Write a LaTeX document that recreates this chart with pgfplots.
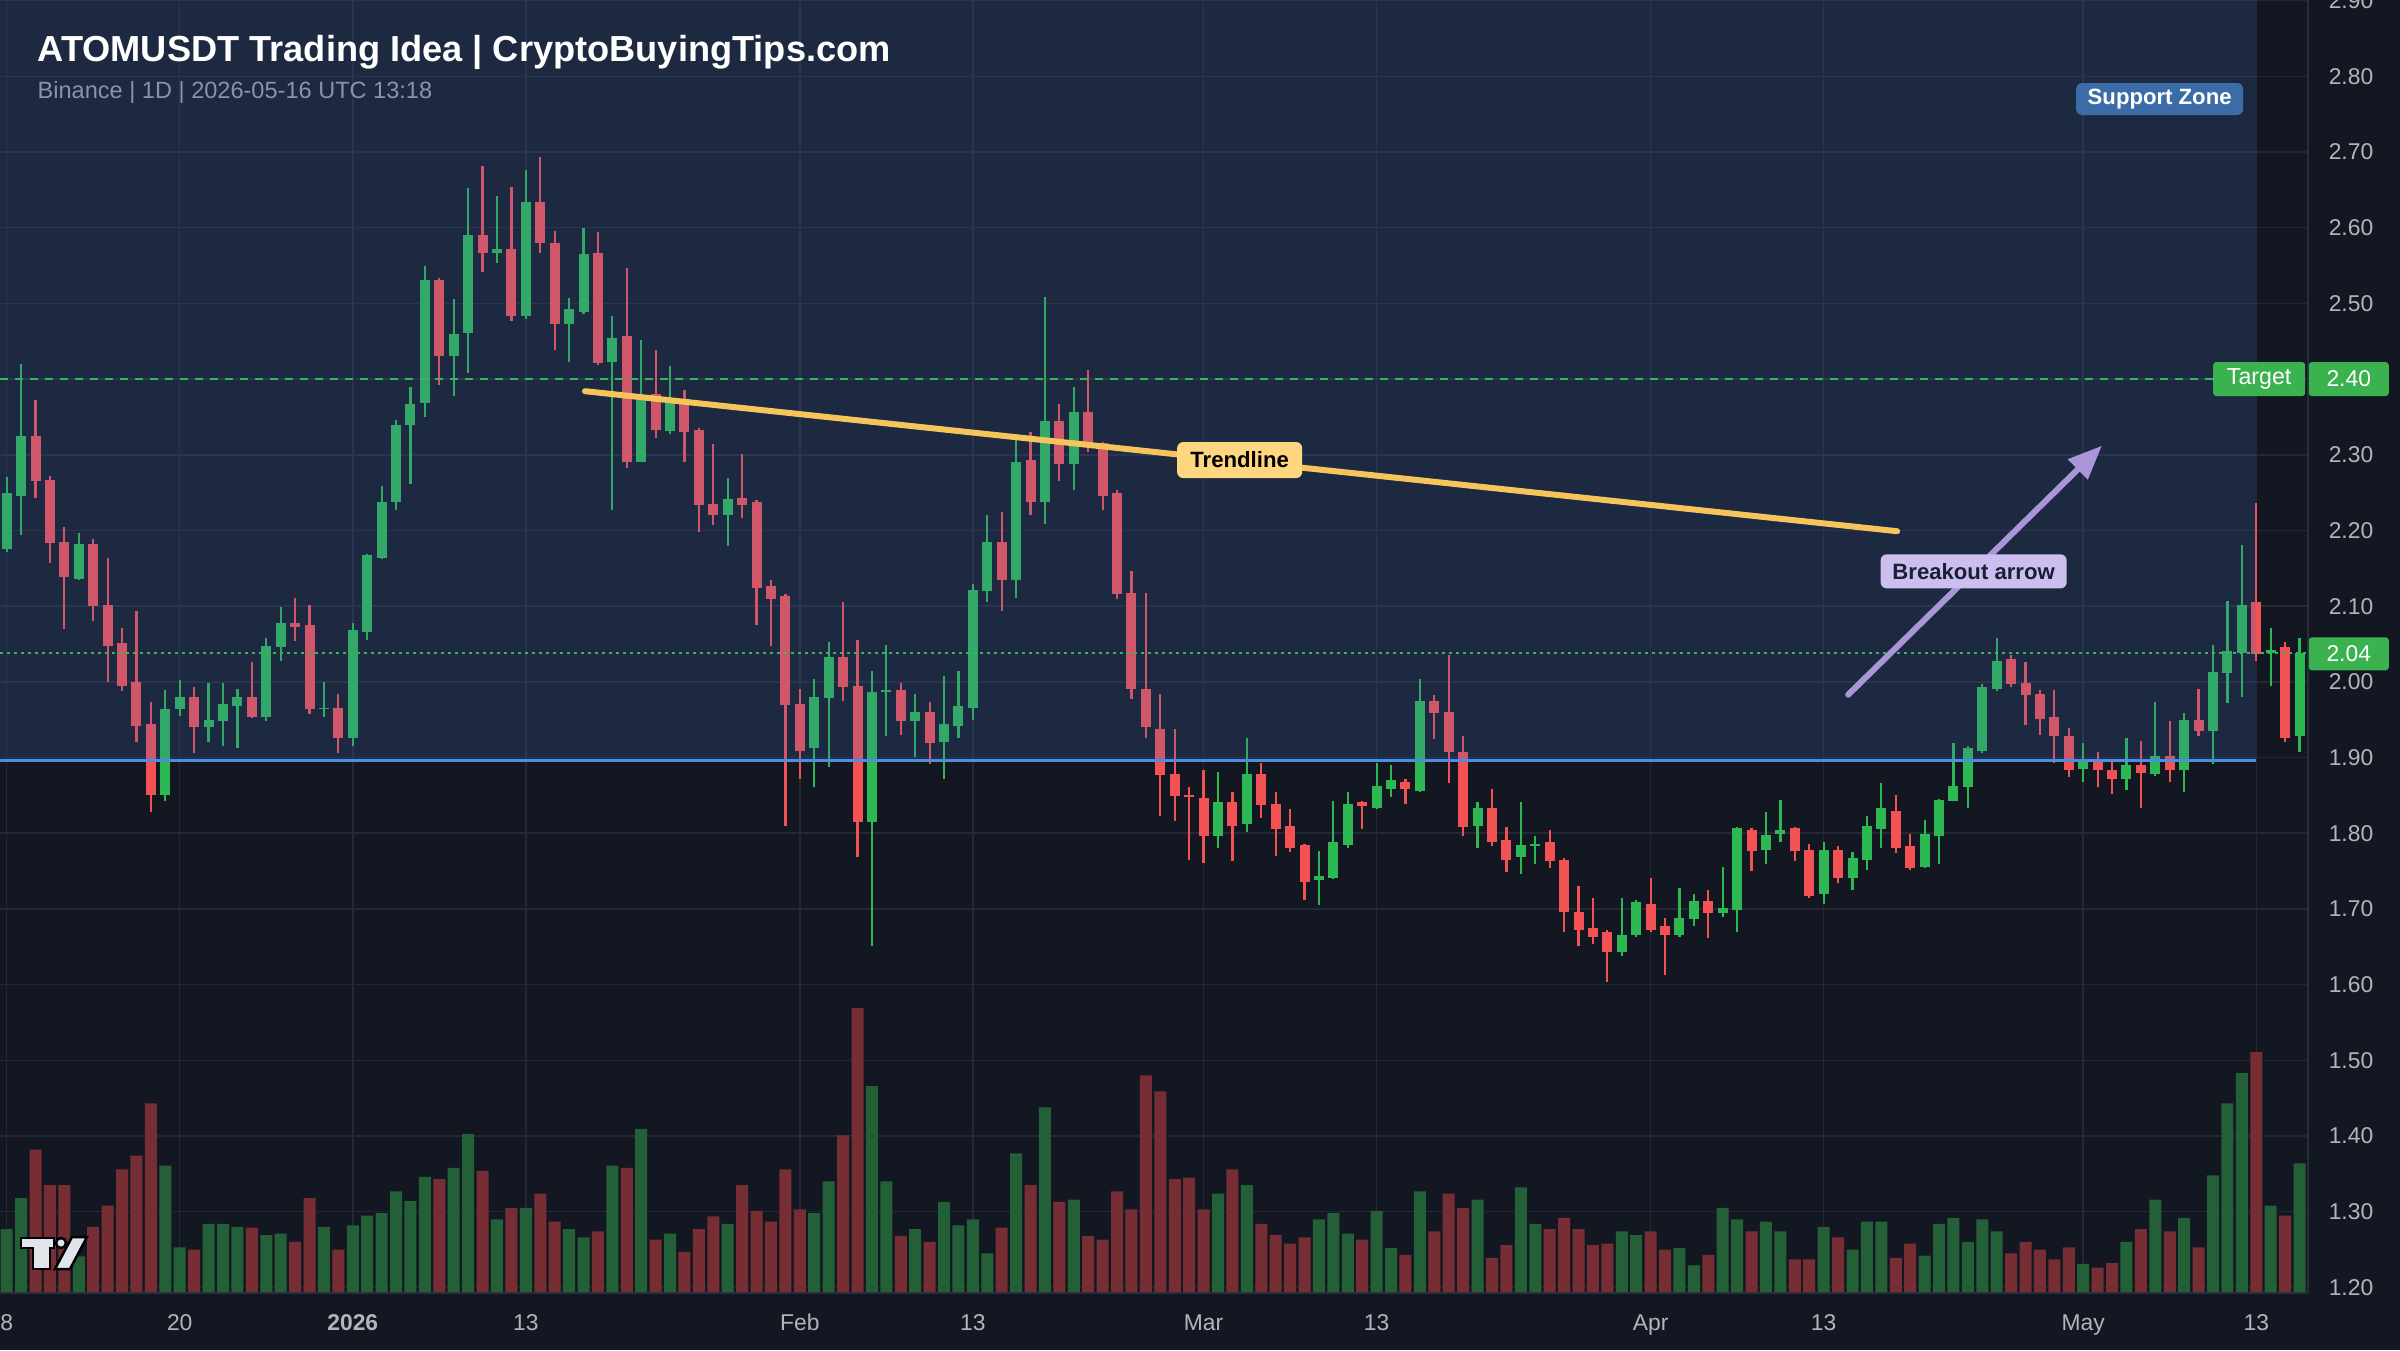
\documentclass[border=0pt]{standalone}
\usepackage{pgfplots}
\pgfplotsset{compat=1.18}
\usepackage{pgfplotstable}
\usepackage{fontspec}
\setmainfont{Liberation Sans}
\usetikzlibrary{arrows.meta}

\definecolor{bgdark}{RGB}{19,23,34}
\definecolor{zonec}{RGB}{70,110,190}
\definecolor{gridc}{RGB}{36,40,52}
\definecolor{cgreen}{RGB}{46,184,84}
\definecolor{cred}{RGB}{242,82,84}
\definecolor{vgreen}{RGB}{35,95,55}
\definecolor{vred}{RGB}{118,45,52}
\definecolor{tgreen}{RGB}{60,180,90}
\definecolor{boxgreen}{RGB}{58,178,80}
\definecolor{supc}{RGB}{74,144,226}
\definecolor{trendc}{RGB}{245,197,92}
\definecolor{trendlab}{RGB}{255,214,128}
\definecolor{arrowc}{RGB}{170,150,215}
\definecolor{arrowlab}{RGB}{205,190,240}
\definecolor{arrowtxt}{RGB}{26,31,54}
\definecolor{zonelab}{RGB}{60,108,168}
\definecolor{tickc}{RGB}{178,181,190}
\definecolor{subc}{RGB}{139,147,167}
\definecolor{sepc}{RGB}{42,46,57}
\definecolor{logoc}{RGB}{225,228,234}

% i: day index (0 = 2025-12-08), o h l c: open high low close, v: volume bar top (drawn on the price scale)
\pgfplotstableread{
i o h l c v
0 2.176 2.270 2.172 2.249 1.277
1 2.246 2.420 2.194 2.325 1.318
2 2.325 2.372 2.243 2.265 1.382
3 2.267 2.272 2.157 2.183 1.335
4 2.185 2.205 2.070 2.138 1.335
5 2.136 2.196 2.134 2.182 1.241
6 2.182 2.189 2.080 2.100 1.280
7 2.102 2.164 2.000 2.048 1.308
8 2.051 2.071 1.988 1.995 1.356
9 2.000 2.093 1.920 1.942 1.374
10 1.944 1.973 1.828 1.850 1.443
11 1.850 1.989 1.843 1.964 1.361
12 1.964 2.002 1.955 1.980 1.253
13 1.980 1.993 1.906 1.941 1.250
14 1.941 1.999 1.921 1.950 1.284
15 1.948 1.999 1.915 1.971 1.284
16 1.968 1.991 1.913 1.980 1.280
17 1.980 2.026 1.952 1.953 1.279
18 1.953 2.058 1.948 2.047 1.269
19 2.046 2.099 2.028 2.078 1.271
20 2.078 2.111 2.054 2.072 1.260
21 2.075 2.102 1.957 1.964 1.318
22 1.964 2.000 1.953 1.966 1.280
23 1.966 1.984 1.906 1.926 1.250
24 1.926 2.078 1.915 2.069 1.282
25 2.066 2.169 2.055 2.167 1.295
26 2.164 2.259 2.162 2.238 1.298
27 2.238 2.346 2.227 2.339 1.327
28 2.339 2.390 2.262 2.367 1.314
29 2.368 2.549 2.350 2.531 1.346
30 2.531 2.533 2.392 2.431 1.343
31 2.431 2.506 2.377 2.459 1.358
32 2.461 2.652 2.408 2.591 1.403
33 2.591 2.681 2.542 2.566 1.354
34 2.566 2.642 2.553 2.572 1.290
35 2.572 2.654 2.477 2.483 1.305
36 2.483 2.676 2.480 2.634 1.305
37 2.634 2.694 2.566 2.580 1.324
38 2.580 2.596 2.439 2.473 1.287
39 2.473 2.507 2.422 2.493 1.277
40 2.489 2.600 2.486 2.565 1.266
41 2.567 2.594 2.419 2.421 1.274
42 2.422 2.483 2.227 2.454 1.361
43 2.457 2.547 2.283 2.291 1.358
44 2.291 2.451 2.290 2.373 1.409
45 2.380 2.438 2.322 2.333 1.263
46 2.332 2.417 2.328 2.368 1.271
47 2.372 2.385 2.291 2.330 1.247
48 2.333 2.335 2.198 2.233 1.277
49 2.235 2.314 2.207 2.220 1.294
50 2.220 2.269 2.180 2.241 1.284
51 2.243 2.301 2.217 2.233 1.335
52 2.238 2.240 2.075 2.124 1.301
53 2.127 2.135 2.048 2.109 1.287
54 2.113 2.116 1.809 1.970 1.356
55 1.971 1.991 1.872 1.908 1.303
56 1.912 2.004 1.861 1.980 1.298
57 1.979 2.053 1.888 2.033 1.340
58 2.033 2.105 1.975 1.993 1.401
59 1.995 2.055 1.769 1.815 1.569
60 1.815 2.014 1.651 1.986 1.466
61 1.986 2.049 1.928 1.989 1.340
62 1.989 1.999 1.930 1.948 1.268
63 1.948 1.984 1.901 1.960 1.277
64 1.960 1.973 1.892 1.919 1.260
65 1.920 2.008 1.872 1.944 1.313
66 1.942 2.015 1.926 1.968 1.282
67 1.966 2.129 1.950 2.122 1.290
68 2.120 2.220 2.106 2.185 1.245
69 2.185 2.225 2.093 2.135 1.279
70 2.135 2.321 2.111 2.291 1.377
71 2.293 2.330 2.220 2.238 1.335
72 2.238 2.509 2.209 2.345 1.438
73 2.345 2.367 2.265 2.288 1.313
74 2.288 2.390 2.254 2.356 1.316
75 2.356 2.412 2.304 2.314 1.268
76 2.315 2.317 2.227 2.246 1.263
77 2.249 2.254 2.109 2.116 1.327
78 2.118 2.147 1.977 1.990 1.303
79 1.991 2.118 1.926 1.941 1.480
80 1.938 1.984 1.823 1.877 1.459
81 1.878 1.938 1.816 1.849 1.343
82 1.850 1.861 1.765 1.848 1.345
83 1.846 1.883 1.761 1.797 1.303
84 1.797 1.881 1.781 1.841 1.324
85 1.841 1.854 1.763 1.810 1.356
86 1.812 1.926 1.801 1.878 1.335
87 1.878 1.893 1.820 1.837 1.284
88 1.838 1.854 1.770 1.805 1.269
89 1.810 1.832 1.775 1.781 1.258
90 1.785 1.786 1.712 1.736 1.266
91 1.738 1.776 1.705 1.743 1.290
92 1.741 1.843 1.740 1.788 1.298
93 1.785 1.854 1.781 1.838 1.271
94 1.841 1.843 1.805 1.836 1.263
95 1.833 1.893 1.832 1.862 1.301
96 1.859 1.890 1.848 1.870 1.252
97 1.868 1.872 1.839 1.859 1.243
98 1.856 2.004 1.854 1.975 1.327
99 1.975 1.983 1.924 1.959 1.274
100 1.960 2.035 1.867 1.907 1.324
101 1.907 1.928 1.797 1.808 1.305
102 1.810 1.841 1.781 1.833 1.316
103 1.833 1.859 1.783 1.788 1.239
104 1.791 1.808 1.749 1.765 1.256
105 1.768 1.841 1.746 1.785 1.332
106 1.783 1.796 1.759 1.786 1.284
107 1.788 1.804 1.754 1.763 1.277
108 1.765 1.767 1.670 1.696 1.292
109 1.696 1.730 1.651 1.672 1.277
110 1.675 1.714 1.654 1.663 1.256
111 1.669 1.672 1.604 1.643 1.258
112 1.643 1.714 1.638 1.665 1.274
113 1.665 1.712 1.663 1.709 1.269
114 1.707 1.741 1.669 1.672 1.274
115 1.678 1.688 1.613 1.665 1.250
116 1.665 1.728 1.663 1.688 1.252
117 1.687 1.720 1.678 1.711 1.229
118 1.711 1.725 1.662 1.694 1.243
119 1.694 1.756 1.689 1.701 1.305
120 1.699 1.808 1.670 1.807 1.290
121 1.804 1.807 1.750 1.776 1.274
122 1.778 1.828 1.759 1.798 1.287
123 1.799 1.844 1.788 1.804 1.274
124 1.807 1.808 1.763 1.776 1.237
125 1.778 1.786 1.714 1.717 1.237
126 1.720 1.788 1.707 1.778 1.280
127 1.778 1.783 1.734 1.741 1.266
128 1.741 1.775 1.725 1.767 1.250
129 1.765 1.823 1.752 1.810 1.287
130 1.805 1.866 1.781 1.833 1.287
131 1.830 1.850 1.774 1.780 1.239
132 1.783 1.799 1.752 1.754 1.258
133 1.756 1.817 1.754 1.799 1.242
134 1.797 1.845 1.759 1.844 1.284
135 1.843 1.919 1.842 1.862 1.292
136 1.861 1.915 1.833 1.912 1.260
137 1.909 1.997 1.906 1.993 1.290
138 1.990 2.058 1.988 2.028 1.274
139 2.030 2.035 1.993 1.997 1.245
140 1.999 2.026 1.943 1.983 1.260
141 1.984 1.989 1.930 1.951 1.250
142 1.953 1.989 1.893 1.928 1.237
143 1.928 1.939 1.874 1.884 1.253
144 1.885 1.919 1.868 1.895 1.231
145 1.895 1.908 1.861 1.883 1.226
146 1.883 1.895 1.852 1.872 1.232
147 1.872 1.926 1.857 1.890 1.260
148 1.890 1.922 1.833 1.879 1.277
149 1.878 1.973 1.875 1.902 1.316
150 1.902 1.948 1.868 1.884 1.274
151 1.884 1.959 1.854 1.949 1.292
152 1.949 1.991 1.928 1.935 1.253
153 1.935 2.049 1.892 2.013 1.348
154 2.012 2.107 1.972 2.041 1.443
155 2.038 2.181 1.980 2.101 1.483
156 2.105 2.236 2.028 2.037 1.511
157 2.038 2.071 1.995 2.042 1.308
158 2.046 2.053 1.921 1.926 1.295
159 1.928 2.058 1.908 2.038 1.364
}\candles

\pgfplotsset{
  candle/.style 2 args={only marks, mark=none, mark size=0pt,
    mark options={draw=none, fill=none},
    error bars/.cd, y dir=both, y explicit, error mark=none,
    error bar style={color=#1, line width=#2}},
}

\begin{document}
\begin{tikzpicture}
\path[use as bounding box] (0,0) rectangle (24,13.5);
\fill[bgdark] (0,0) rectangle (24,13.5);
\begin{axis}[
  at={(0cm,0.57cm)}, anchor=south west,
  width=23.08cm, height=12.93cm, scale only axis,
  xmin=-0.465, xmax=159.59, ymin=1.1926, ymax=2.9008,
  axis line style={draw=none},
  major tick length=0pt,
  clip mode=individual,
  xtick={0,12,24,36,55,67,83,95,114,126,144,156},
  xticklabels={8,20,\textbf{2026},13,Feb,13,Mar,13,Apr,13,May,13},
  ytick={1.2,1.3,1.4,1.5,1.6,1.7,1.8,1.9,2.0,2.1,2.2,2.3,2.4,2.5,2.6,2.7,2.8,2.9},
  yticklabel pos=right,
  xmajorgrids, ymajorgrids,
  grid style={gridc, line width=0.015cm},
  /pgf/number format/assume math mode=true,
  ticklabel style={font=\fontsize{6.5}{7.8}\selectfont, text=tickc},
  y tick label style={anchor=west, inner sep=0pt, xshift=0.2cm,
     /pgf/number format/fixed, /pgf/number format/fixed zerofill, /pgf/number format/precision=2},
  x tick label style={anchor=base, inner sep=0pt, yshift=-0.37cm},
]
% volume
\addplot[ybar, bar width=0.12cm, bar shift=0pt, fill=vgreen, draw=none]
  table[x=i, y=v, restrict expr to domain={\thisrow{c}-\thisrow{o}}{0:5}] {\candles};
\addplot[ybar, bar width=0.12cm, bar shift=0pt, fill=vred, draw=none]
  table[x=i, y=v, restrict expr to domain={\thisrow{o}-\thisrow{c}}{0:5}] {\candles};
% wicks
\addplot[candle={cgreen}{0.022cm}]
  table[x=i, y expr={(\thisrow{h}+\thisrow{l})/2}, y error expr={(\thisrow{h}-\thisrow{l})/2},
        restrict expr to domain={\thisrow{c}-\thisrow{o}}{0:5}] {\candles};
\addplot[candle={cred}{0.022cm}]
  table[x=i, y expr={(\thisrow{h}+\thisrow{l})/2}, y error expr={(\thisrow{h}-\thisrow{l})/2},
        restrict expr to domain={\thisrow{o}-\thisrow{c}}{0:5}] {\candles};
% bodies
\addplot[candle={cgreen}{0.10cm}]
  table[x=i, y expr={(\thisrow{o}+\thisrow{c})/2}, y error expr={(\thisrow{c}-\thisrow{o})/2},
        restrict expr to domain={\thisrow{c}-\thisrow{o}}{0:5}] {\candles};
\addplot[candle={cred}{0.10cm}]
  table[x=i, y expr={(\thisrow{o}+\thisrow{c})/2}, y error expr={(\thisrow{o}-\thisrow{c})/2},
        restrict expr to domain={\thisrow{o}-\thisrow{c}}{0:5}] {\candles};
% support zone overlay
\fill[zonec, fill opacity=0.2] (axis cs:-0.465,1.896) rectangle (axis cs:156,2.9008);
% horizontal levels
\addplot[tgreen, line width=0.022cm, dash pattern=on 0.08cm off 0.07cm] coordinates {(-0.465,2.40) (153.0,2.40)};
\addplot[tgreen, line width=0.02cm, dash pattern=on 0.03cm off 0.04cm] coordinates {(-0.465,2.038) (159.59,2.038)};
\addplot[supc, line width=0.025cm] coordinates {(-0.465,1.896) (156,1.896)};
% trendline
\addplot[trendc, line width=0.06cm, line cap=round] coordinates {(40.1,2.384) (131.1,2.199)};
% breakout arrow
\addplot[arrowc, line width=0.06cm, line cap=round, -{Triangle[length=0.34cm, width=0.27cm]}] coordinates {(127.7,1.983) (145.3,2.312)};
% labels
\node[fill=trendlab, rounded corners=0.06cm, text=black, font=\bfseries\fontsize{6.3}{7}\selectfont,
  minimum width=1.25cm, minimum height=0.36cm, inner sep=0pt] at (axis cs:85.5,2.293) {Trendline};
\node[fill=arrowlab, rounded corners=0.06cm, text=arrowtxt, font=\bfseries\fontsize{6.3}{7}\selectfont,
  minimum width=1.86cm, minimum height=0.34cm, inner sep=0pt] at (axis cs:136.4,2.146) {Breakout arrow};
\node[fill=zonelab, rounded corners=0.06cm, text=white, font=\bfseries\fontsize{6.3}{7}\selectfont,
  minimum width=1.67cm, minimum height=0.32cm, inner sep=0pt] at (axis cs:149.3,2.770) {Support Zone};
\node[fill=boxgreen, rounded corners=0.03cm, text=white, font=\fontsize{6.6}{7.5}\selectfont,
  minimum width=0.92cm, minimum height=0.34cm, inner sep=0pt] at (axis cs:156.2,2.40) {Target};
\coordinate (p240) at (axis cs:159.59,2.40);
\coordinate (p204) at (axis cs:159.59,2.037);
\end{axis}
% axis separators
\draw[sepc, line width=0.015cm] (23.08,0.57) -- (23.08,13.5);
\draw[sepc, line width=0.015cm] (0,0.57) -- (23.08,0.57);
% price boxes
\node[fill=boxgreen, rounded corners=0.03cm, text=white, font=\fontsize{6.5}{7.5}\selectfont,
  minimum width=0.80cm, minimum height=0.34cm, inner sep=0pt, anchor=west] at (p240) {2.40};
\node[fill=boxgreen, rounded corners=0.03cm, text=white, font=\fontsize{6.5}{7.5}\selectfont,
  minimum width=0.80cm, minimum height=0.33cm, inner sep=0pt, anchor=west] at (p204) {2.04};
% title
\node[anchor=base west, text=white, font=\bfseries\fontsize{10.3}{12}\selectfont, inner sep=0pt]
  at (0.37,12.88) {ATOMUSDT Trading Idea | CryptoBuyingTips.com};
\node[anchor=base west, text=subc, font=\fontsize{6.7}{8}\selectfont, inner sep=0pt]
  at (0.37,12.51) {Binance | 1D | 2026-05-16 UTC 13:18};
% TradingView logo
\begin{scope}[fill=logoc, draw=black, line width=0.025cm]
  \filldraw (0.21,1.12) -- (0.54,1.12) -- (0.54,1.02) -- (0.50,1.02) -- (0.50,0.81) -- (0.33,0.81) -- (0.33,1.02) -- (0.21,1.02) -- cycle;
  \filldraw (0.61,1.07) circle (0.05);
  \filldraw (0.55,0.81) -- (0.70,0.81) -- (0.87,1.13) -- (0.72,1.13) -- cycle;
\end{scope}
\end{tikzpicture}
\end{document}
